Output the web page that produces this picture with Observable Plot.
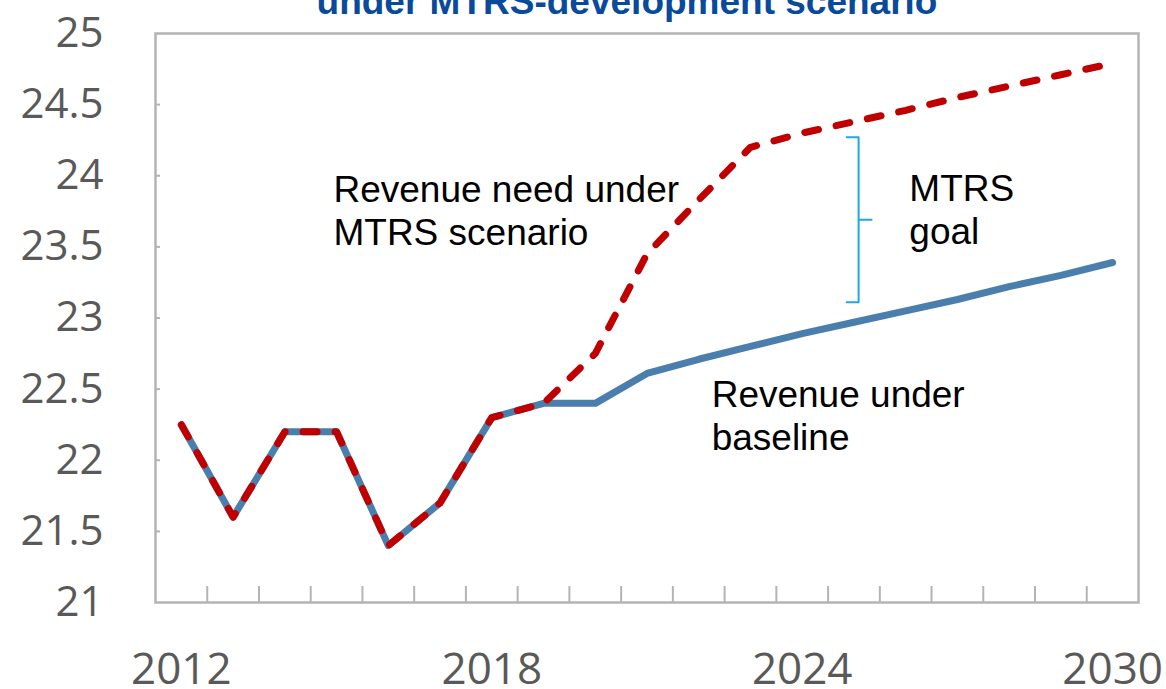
<!DOCTYPE html>
<html>
<head>
<meta charset="utf-8">
<script src="https://cdn.jsdelivr.net/npm/d3@7"></script>
<script src="https://cdn.jsdelivr.net/npm/@observablehq/plot@0.6"></script>
<style>
  html, body { margin: 0; padding: 0; background: #ffffff; }
  #chart { width: 1166px; height: 689px; overflow: hidden; }
</style>
</head>
<body>
<div id="chart"></div>
<script>
// ---- data ----
const years = [2012, 2013, 2014, 2015, 2016, 2017, 2018, 2019, 2020, 2021, 2022, 2023, 2024, 2025, 2026, 2027, 2028, 2029, 2030];
const revenueBaseline = [22.25, 21.6, 22.2, 22.2, 21.4, 21.7, 22.3, 22.4, 22.4, 22.61, 22.71, 22.8, 22.89, 22.97, 23.05, 23.13, 23.22, 23.3, 23.39];
const revenueMTRS = [22.25, 21.6, 22.2, 22.2, 21.4, 21.7, 22.3, 22.4, 22.75, 23.45, 23.83, 24.2, 24.3, 24.38, 24.46, 24.55, 24.63, 24.71, 24.79];
const yTicks = [21, 21.5, 22, 22.5, 23, 23.5, 24, 24.5, 25];
const xLabelYears = [2012, 2018, 2024, 2030];
const titleText = ["under MTRS-development scenario"];
const annotations = [
  {x: 2014.94, y: 23.76, text: "Revenue need under\nMTRS scenario"},
  {x: 2026.07, y: 23.77, text: "MTRS\ngoal"},
  {x: 2022.25, y: 22.32, text: "Revenue under\nbaseline"}
];
// bracket showing the MTRS goal gap (data units)
const bracketX = [2024.86, 2025.09, 2025.34];
const bracketY = [24.27, 23.69, 23.11];

// ---- build ----
const W = 1166, H = 689;
const mL = 155, mR = 28, mT = 33, mB = 87;
const plotW = W - mL - mR, plotH = H - mT - mB;

const baselineData = years.map((yr, i) => ({year: yr, value: revenueBaseline[i]}));
const mtrsData = years.map((yr, i) => ({year: yr, value: revenueMTRS[i]}));
const boundaries = years.slice(1).map(yr => yr - 0.5);
const bracketPts = [
  {x: bracketX[0], y: bracketY[0]},
  {x: bracketX[1], y: bracketY[0]},
  {x: bracketX[1], y: bracketY[1]},
  {x: bracketX[2], y: bracketY[1]},
  {x: bracketX[1], y: bracketY[1]},
  {x: bracketX[1], y: bracketY[2]},
  {x: bracketX[0], y: bracketY[2]}
];

const axisGray = "#b4b4b4";
const labelGray = "#595959";

const chart = Plot.plot({
  width: W,
  height: H,
  marginLeft: mL,
  marginRight: mR,
  marginTop: mT,
  marginBottom: mB,
  style: {fontFamily: "'Open Sans', sans-serif", background: "#ffffff", color: labelGray},
  x: {type: "linear", domain: [years[0] - 0.5, years[years.length - 1] + 0.5]},
  y: {domain: [yTicks[0], yTicks[yTicks.length - 1]]},
  marks: [
    // y tick labels
    Plot.axisY({ticks: yTicks, tickSize: 0, tickPadding: 52, fontSize: 42, fill: labelGray, tickFormat: d => String(d), label: null}),
    // x tick labels
    Plot.axisX({ticks: xLabelYears, tickSize: 0, tickPadding: 50, fontSize: 44, fill: labelGray, tickFormat: d => String(d), label: null}),
    // inward y ticks
    Plot.tickY(yTicks.slice(1, -1), {y: d => d, stroke: axisGray, strokeWidth: 2, insetRight: plotW - 5}),
    // inward x ticks at category boundaries
    Plot.tickX(boundaries, {x: d => d, stroke: axisGray, strokeWidth: 2, insetTop: plotH - 16}),
    Plot.frame({stroke: axisGray, strokeWidth: 2.5}),
    // series
    Plot.line(baselineData, {x: "year", y: "value", stroke: "#4a7eac", strokeWidth: 7, strokeLinejoin: "round", strokeLinecap: "round"}),
    Plot.line(mtrsData, {x: "year", y: "value", stroke: "#c00000", strokeWidth: 7, strokeDasharray: "14,18", strokeLinecap: "round", strokeLinejoin: "round"}),
    // bracket
    Plot.line(bracketPts, {x: "x", y: "y", stroke: "#1ea7e1", strokeWidth: 2}),
    // annotations
    Plot.text(annotations, {x: "x", y: "y", text: "text", textAnchor: "start", lineAnchor: "middle", lineHeight: 1.17, fontSize: 37, fill: "#000000", fontFamily: "'Liberation Sans', Arial, sans-serif"}),
    // title (cut at the top, as in the reference)
    Plot.text(titleText, {frameAnchor: "top", dx: -20, dy: -20, lineAnchor: "bottom", fontSize: 37, fontWeight: "bold", fill: "#0a4a9a", fontFamily: "'Liberation Sans', Arial, sans-serif"})
  ]
});

document.getElementById("chart").appendChild(chart);
</script>
</body>
</html>
